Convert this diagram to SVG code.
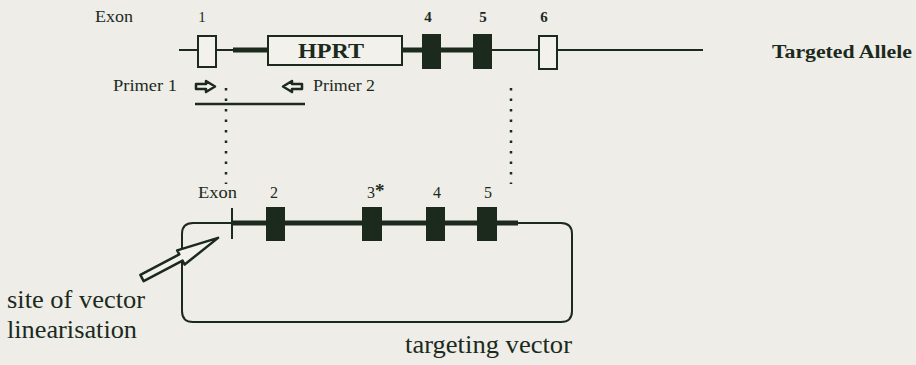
<svg xmlns="http://www.w3.org/2000/svg" width="916" height="365" viewBox="0 0 916 365">
<style>
text{font-family:"Liberation Serif","Times New Roman",serif;fill:#1b2a1d}
.b{font-weight:bold}
.thin{stroke:#1b2a1d;stroke-width:2;fill:none}
.thick{stroke:#1b2a1d;stroke-width:5;fill:none}
.open{fill:#f2f1ec;stroke:#1b2a1d;stroke-width:2}
.solid{fill:#1b2a1d;stroke:none}
.dots{stroke:#1b2a1d;stroke-width:2.5;stroke-dasharray:2.5 8;fill:none}
.hollow{fill:#f2f1ec;stroke:#1b2a1d;stroke-width:2.5;stroke-linejoin:round}
</style>
<rect width="916" height="365" fill="#eeede7"/>

<g id="targeted-allele">
  <line class="thin" x1="179" y1="50" x2="198" y2="50"/>
  <line class="thin" x1="216" y1="50" x2="234" y2="50"/>
  <line class="thick" x1="233" y1="50" x2="268" y2="50"/>
  <line class="thick" x1="402" y1="50" x2="492" y2="50"/>
  <line class="thin" x1="492" y1="50" x2="538" y2="50"/>
  <line class="thin" x1="557" y1="50" x2="703" y2="50"/>
  <rect id="exon1" class="open" x="198" y="36" width="18" height="31"/>
  <g id="hprt">
    <rect class="open" x="268" y="36" width="134" height="29"/>
    <text class="b" x="298" y="58" font-size="22" textLength="66" lengthAdjust="spacingAndGlyphs">HPRT</text>
  </g>
  <rect id="exon4" class="solid" x="422" y="34" width="19" height="35"/>
  <rect id="exon5" class="solid" x="473" y="34" width="19" height="35"/>
  <rect id="exon6" class="open" x="539" y="36" width="18" height="33"/>
  <text x="95" y="22" font-size="16" textLength="38" lengthAdjust="spacingAndGlyphs">Exon</text>
  <text x="202" y="22" font-size="15" text-anchor="middle">1</text>
  <text class="b" x="428" y="22" font-size="15" text-anchor="middle">4</text>
  <text class="b" x="483" y="22" font-size="15" text-anchor="middle">5</text>
  <text class="b" x="544" y="22" font-size="15" text-anchor="middle">6</text>
  <text class="b" x="772" y="58" font-size="18" textLength="140" lengthAdjust="spacingAndGlyphs">Targeted Allele</text>
</g>

<g id="primers">
  <text x="113" y="91" font-size="16" textLength="64" lengthAdjust="spacingAndGlyphs">Primer 1</text>
  <polygon class="hollow" points="196,84 206,84 206,81 215,86.5 206,92 206,89 196,89"/>
  <polygon class="hollow" points="302,84 292,84 292,81 283,86.5 292,92 292,89 302,89"/>
  <text x="313" y="91" font-size="16" textLength="62" lengthAdjust="spacingAndGlyphs">Primer 2</text>
  <line x1="195" y1="104" x2="305" y2="104" stroke="#1b2a1d" stroke-width="2.5"/>
</g>

<g id="targeting-vector">
  <path class="thin" stroke-width="1.6" d="M232,223 H193 Q182,223 182,234 V311 Q182,322 193,322 H561 Q572,322 572,311 V234 Q572,223 561,223 H518"/>
  <line class="thick" x1="232" y1="223" x2="518" y2="223"/>
  <line class="thin" x1="232" y1="208" x2="232" y2="239"/>
  <rect id="v-exon2" class="solid" x="266" y="207" width="19" height="34"/>
  <rect id="v-exon3" class="solid" x="362" y="207" width="20" height="34"/>
  <rect id="v-exon4" class="solid" x="426" y="207" width="19" height="34"/>
  <rect id="v-exon5" class="solid" x="477" y="207" width="20" height="34"/>
  <text x="198" y="198" font-size="16" textLength="39" lengthAdjust="spacingAndGlyphs">Exon</text>
  <text x="274" y="198" font-size="16" text-anchor="middle">2</text>
  <text x="367" y="198" font-size="16">3<tspan class="b" font-size="19" dy="-1">*</tspan></text>
  <text x="437" y="198" font-size="16" text-anchor="middle">4</text>
  <text x="488" y="198" font-size="16" text-anchor="middle">5</text>
  <text x="405" y="353" font-size="25" textLength="167" lengthAdjust="spacingAndGlyphs">targeting vector</text>
</g>

<g id="linearisation-label">
  <text x="7" y="308" font-size="25" textLength="138" lengthAdjust="spacingAndGlyphs">site of vector</text>
  <text x="7" y="338" font-size="25" textLength="130" lengthAdjust="spacingAndGlyphs">linearisation</text>
</g>

<g id="connectors">
  <line class="dots" x1="226" y1="88" x2="226" y2="184"/>
  <line class="dots" x1="511" y1="88" x2="511" y2="184"/>
  <polygon class="hollow" transform="translate(142,278) rotate(-27.8)" points="0,-3.5 44,-3.5 44,-8 86,0 44,8 44,3.5 0,3.5"/>
</g>
</svg>
